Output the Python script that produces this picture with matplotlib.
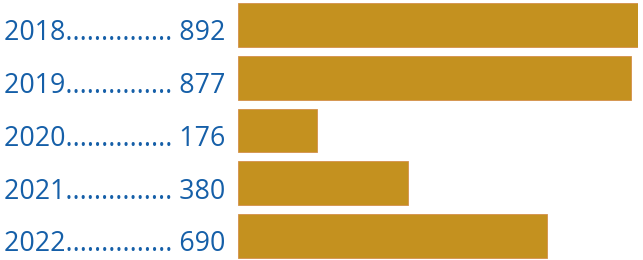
import matplotlib.pyplot as plt
from matplotlib.transforms import blended_transform_factory

years = ['2018', '2019', '2020', '2021', '2022']
values = [892, 877, 176, 380, 690]

bar_color = '#C4911F'
text_color = '#155FA8'

fig = plt.figure(figsize=(6.43, 2.6), dpi=100)
ax = fig.add_axes([238 / 643, 0, 400 / 643, 1])

pos = list(range(len(years)))
ax.barh(pos, values, height=0.834, color=bar_color, edgecolor='#D4904A',
        linewidth=0.6)
ax.set_xlim(0, 892)
ax.set_ylim(4.455, -0.474)
ax.axis('off')

# labels "year ....... value" on the left, in figure x / data y
trans = blended_transform_factory(fig.transFigure, ax.transData)
for p, yr, v in zip(pos, years, values):
    ax.text(4 / 643, p + 0.29, f'{yr}' + '.' * 15 + f' {v}', transform=trans,
            ha='left', va='baseline', color=text_color,
            fontsize=19.3, family='Open Sans')

fig.savefig('out.png', dpi=100)
